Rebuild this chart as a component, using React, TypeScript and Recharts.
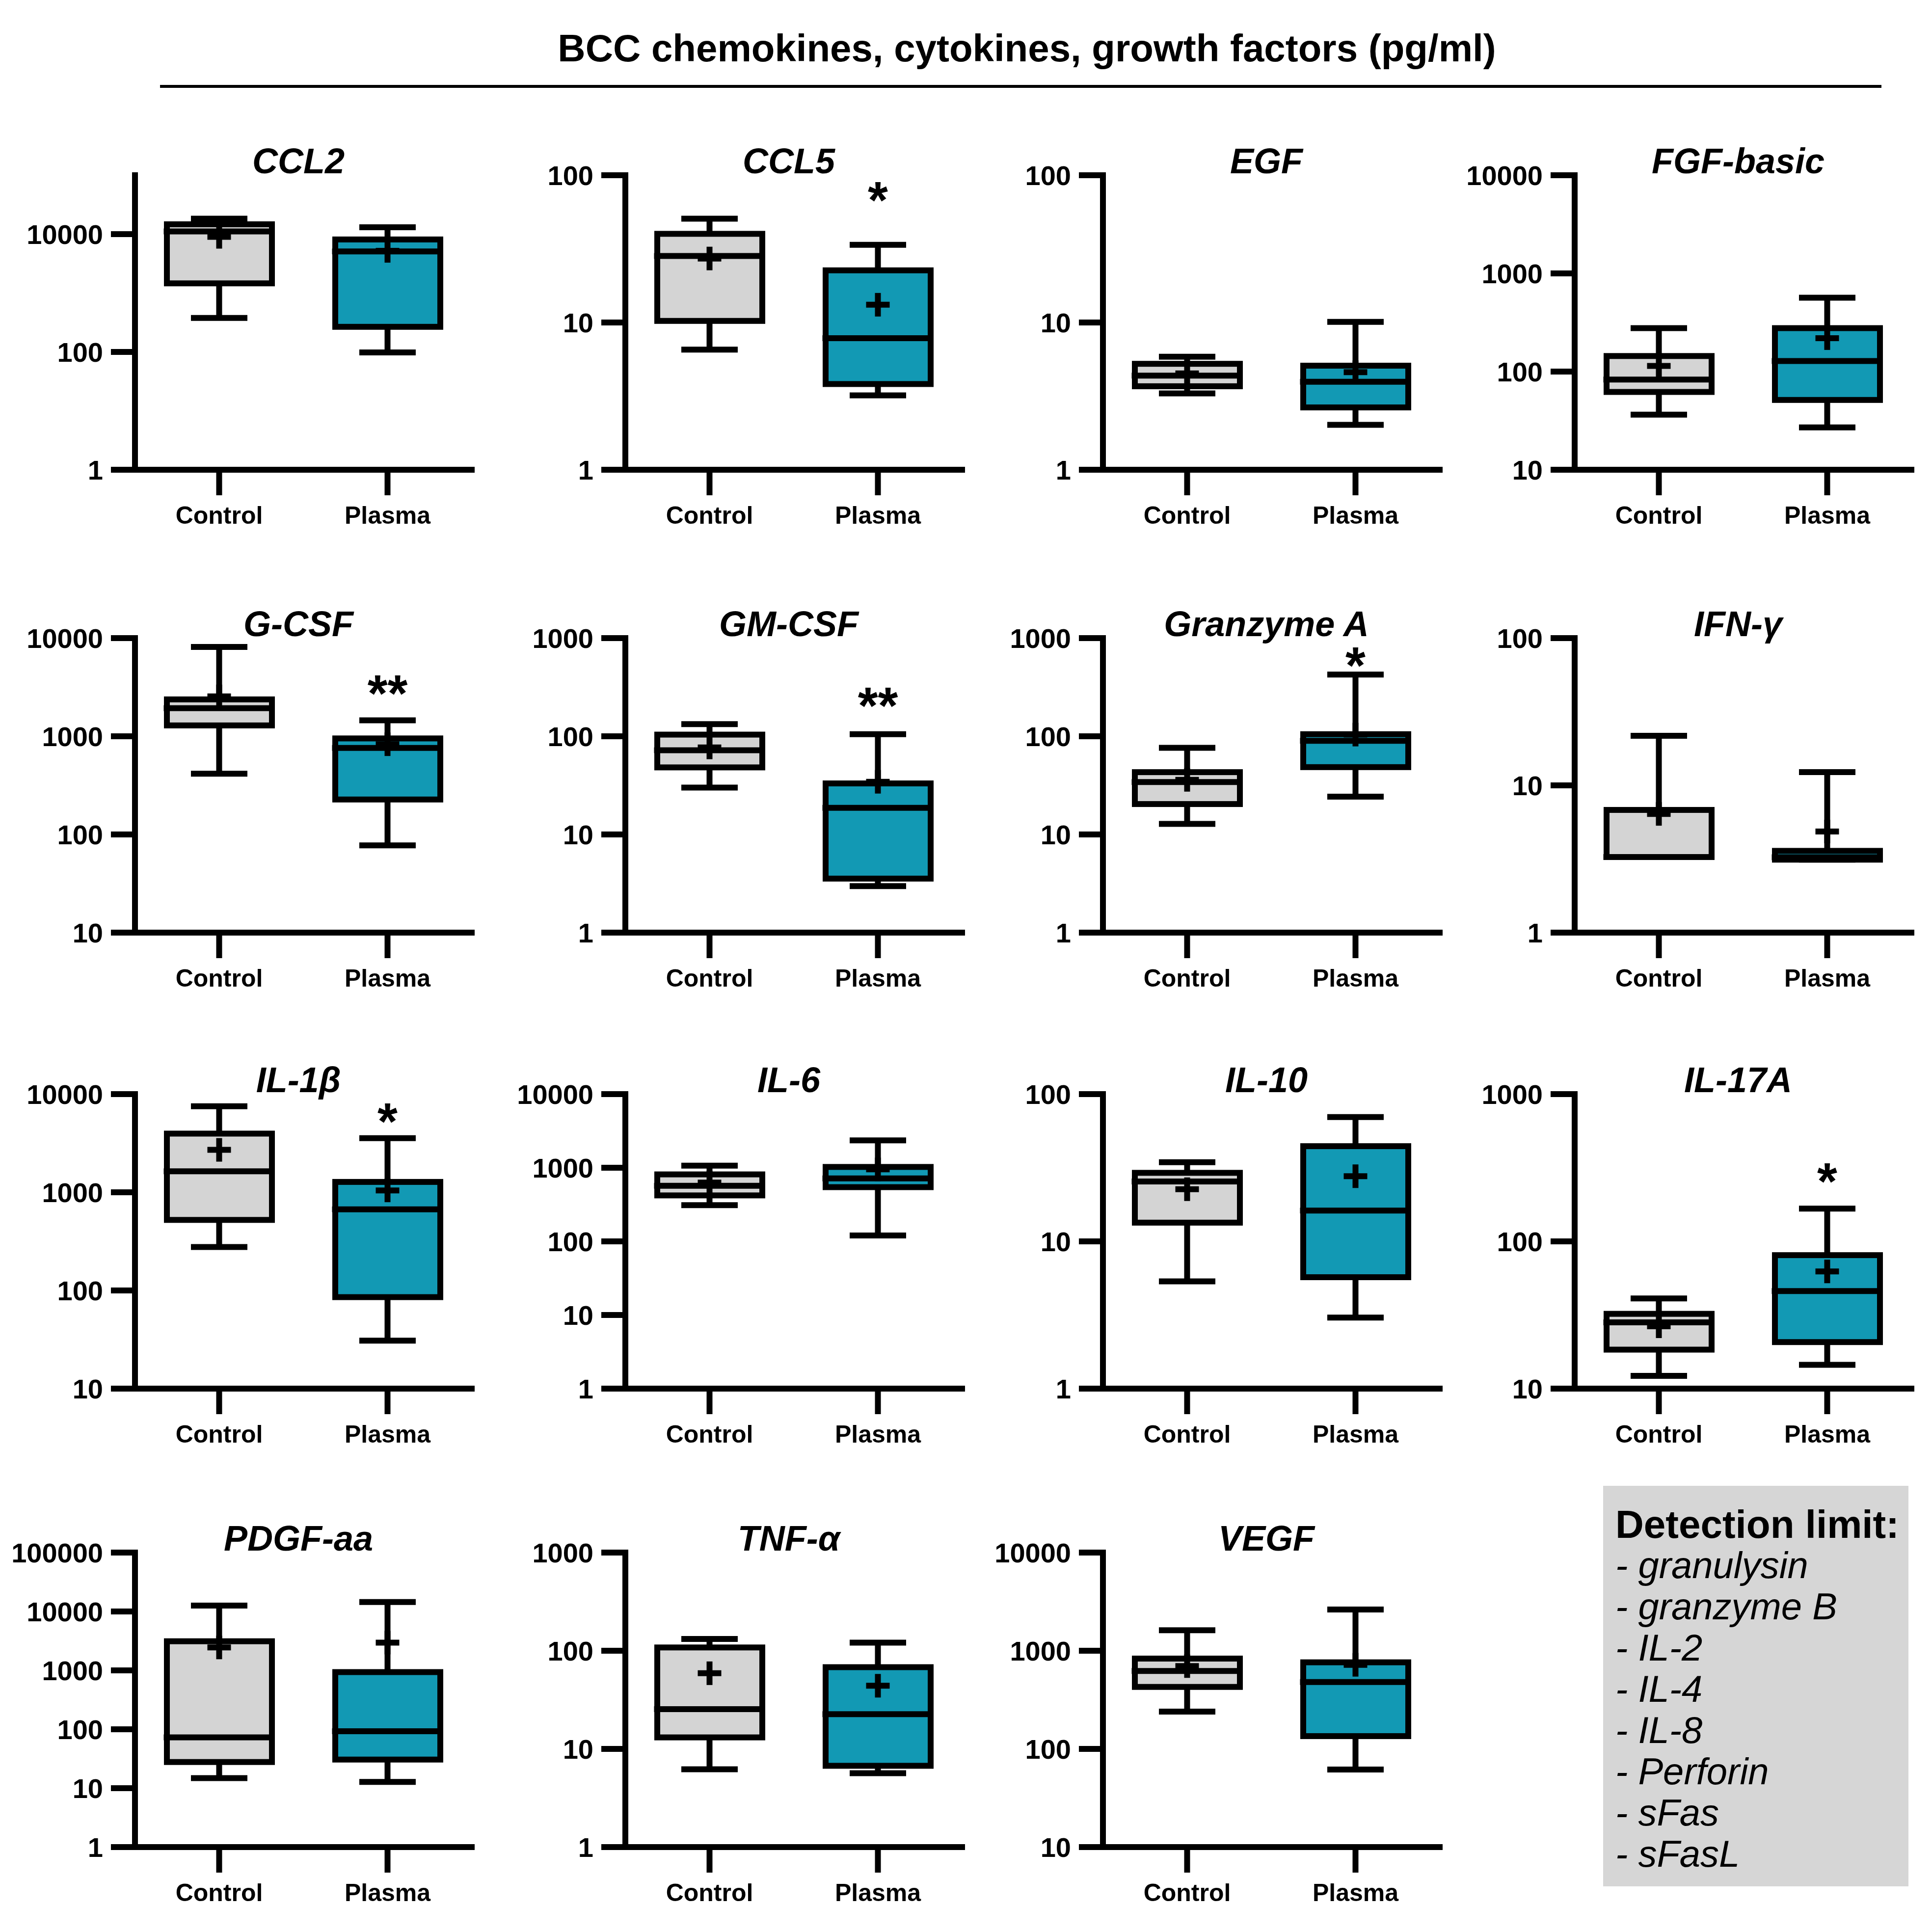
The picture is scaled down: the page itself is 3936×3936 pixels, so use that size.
import React from "react";
import { ComposedChart, Bar, Scatter, Cell, XAxis, YAxis } from "recharts";

const FONT = "'Liberation Sans', Arial, Helvetica, sans-serif";
const LW = 12;
const BOX_COLORS = ["#d4d4d4", "#1299b4"];

const panelNames = [
  "CCL2", "CCL5", "EGF", "FGF-basic",
  "G-CSF", "GM-CSF", "Granzyme A", "IFN-γ",
  "IL-1β", "IL-6", "IL-10", "IL-17A",
  "PDGF-aa", "TNF-α", "VEGF",
];
const groups = ["Control", "Plasma"];

// [Control, Plasma] per panel
const minVals = [
  [377, 98], [6.54, 3.2], [3.3, 2.02], [36.4, 27],
  [416, 77.5], [30, 2.98], [12.8, 24.3], [3.26, 3.13],
  [277, 30.8], [310, 120], [5.35, 3.04], [12.2, 14.5],
  [14.8, 12.8], [6.2, 5.66], [240, 61.6],
];
const q1Vals = [
  [1460, 267], [10.25, 3.82], [3.69, 2.65], [62, 51.4],
  [1290, 227], [48.2, 3.55], [20.4, 48.5], [3.26, 3.13],
  [523, 85.5], [421, 545], [13.4, 5.71], [18.4, 20.7],
  [27.8, 30.6], [13.1, 6.73], [428, 135],
];
const medianVals = [
  [11100, 5080], [28.3, 7.82], [4.36, 3.96], [83, 128],
  [1933, 760], [72, 18.7], [34.2, 90], [3.26, 3.25],
  [1635, 671], [569, 717], [25.5, 16.2], [28.2, 46],
  [73, 92.6], [25.4, 22.6], [622, 480],
];
const q3Vals = [
  [14700, 8120], [40, 22.6], [5.24, 5.09], [144, 277],
  [2375, 951], [104, 33.1], [43.1, 105], [6.81, 3.59],
  [3960, 1275], [812, 1025], [29.2, 44.3], [32.2, 80.6],
  [3120, 935], [108, 68], [832, 762],
];
const maxVals = [
  [18300, 13100], [50.7, 33.7], [5.86, 10.1], [277, 565],
  [8140, 1452], [133, 105], [76.4, 425], [21.7, 12.3],
  [7510, 3560], [1069, 2354], [34.5, 69.9], [41, 167],
  [12600, 14500], [132, 121], [1615, 2630],
];
const meanVals = [
  [9000, 5200], [27.2, 13.2], [4.51, 4.6], [114, 219],
  [2550, 830], [77, 34.4], [36, 104], [6.4, 4.86],
  [2705, 1045], [628, 950], [22.6, 27.7], [26.5, 62.5],
  [2450, 2960], [59, 44], [698, 719],
];

// significance mark above the Plasma group
const sigLabels = ["", "*", "", "", "**", "**", "*", "", "*", "", "", "*", "", "", ""];
const sigAt = [null, 81, null, null, 3580, 270, 688, null, 6880, null, null, 306, null, null, null];

const yDomains = [
  [1, 100000], [1, 100], [1, 100], [10, 10000],
  [10, 10000], [1, 1000], [1, 1000], [1, 100],
  [10, 10000], [1, 10000], [1, 100], [10, 1000],
  [1, 100000], [1, 1000], [10, 10000],
];
const yTicks = [
  [1, 100, 10000], [1, 10, 100], [1, 10, 100], [10, 100, 1000, 10000],
  [10, 100, 1000, 10000], [1, 10, 100, 1000], [1, 10, 100, 1000], [1, 10, 100],
  [10, 100, 1000, 10000], [1, 10, 100, 1000, 10000], [1, 10, 100], [10, 100, 1000],
  [1, 10, 100, 1000, 10000, 100000], [1, 10, 100, 1000], [10, 100, 1000, 10000],
];

const mainTitle = "BCC chemokines, cytokines, growth factors (pg/ml)";
const detectionTitle = "Detection limit:";
const detectionList = ["granulysin", "granzyme B", "IL-2", "IL-4", "IL-8", "Perforin", "sFas", "sFasL"];

// layout
const colX = [275, 1274, 2247, 3208];
const rowTop = [357, 1300, 2229, 3163];
const PLOT_W = 686;
const PLOT_H = 600;
const Y_W = 260;
const M_TOP = 40;
const M_RIGHT = 30;
const X_H = 150;
const BOX_W = 214;
const CAP_W = 115;

const WhiskerShape = (props: any) => {
  const { x, y, width, height } = props;
  if (x == null || y == null || isNaN(y)) return <g />;
  const top = Math.min(y, y + height);
  const bot = Math.max(y, y + height);
  const cx = x + width / 2;
  return (
    <g stroke="#000" strokeWidth={LW} fill="none">
      <line x1={cx} x2={cx} y1={top} y2={bot} />
      <line x1={x} x2={x + width} y1={top} y2={top} />
      <line x1={x} x2={x + width} y1={bot} y2={bot} />
    </g>
  );
};

const BoxShape = (props: any) => {
  const { x, y, width, height, fill } = props;
  if (x == null || y == null || isNaN(y)) return <g />;
  const top = Math.min(y, y + height);
  const h = Math.abs(height);
  return <rect x={x} y={top} width={width} height={h} fill={fill} stroke="#000" strokeWidth={LW} />;
};

const MedianShape = (props: any) => {
  const { cx, cy } = props;
  if (cx == null || cy == null || isNaN(cy)) return <g />;
  const half = (BOX_W + LW) / 2;
  return <line x1={cx - half} x2={cx + half} y1={cy} y2={cy} stroke="#000" strokeWidth={LW} />;
};

const MeanShape = (props: any) => {
  const { cx, cy } = props;
  if (cx == null || cy == null || isNaN(cy)) return <g />;
  return (
    <g stroke="#000" strokeWidth={LW}>
      <line x1={cx - 24} x2={cx + 24} y1={cy} y2={cy} />
      <line x1={cx} x2={cx} y1={cy - 24} y2={cy + 24} />
    </g>
  );
};

const SigShape = (props: any) => {
  const { cx, cy, payload } = props;
  if (!payload || !payload.sigLabel || cy == null || isNaN(cy)) return <g />;
  return (
    <text x={cx} y={cy + 60} textAnchor="middle" fontFamily={FONT} fontWeight={700} fontSize={105} fill="#000">
      {payload.sigLabel}
    </text>
  );
};

function Panel({ index }: { index: number }) {
  const col = index % 4;
  const row = Math.floor(index / 4);
  const rows = groups.map((g, gi) => ({
    group: g,
    whisker: [minVals[index][gi], maxVals[index][gi]],
    box: [q1Vals[index][gi], q3Vals[index][gi]],
    median: medianVals[index][gi],
    mean: meanVals[index][gi],
    sig: gi === 1 ? sigAt[index] : null,
    sigLabel: gi === 1 ? sigLabels[index] : "",
  }));
  const left = colX[col] - Y_W;
  const top = rowTop[row] - M_TOP;
  const tickStyle = { fill: "#000", fontSize: 56, fontWeight: 700, fontFamily: FONT };
  return (
    <div style={{ position: "absolute", left, top }}>
      <ComposedChart
        width={Y_W + PLOT_W + M_RIGHT}
        height={M_TOP + PLOT_H + X_H}
        data={rows}
        margin={{ top: M_TOP, right: M_RIGHT, bottom: 0, left: 0 }}
        style={{ overflow: "visible" }}
      >
        <XAxis
          xAxisId="g"
          dataKey="group"
          type="category"
          height={X_H}
          interval={0}
          tickSize={52}
          tickMargin={22}
          axisLine={{ stroke: "#000", strokeWidth: LW, strokeLinecap: "square" }}
          tickLine={{ stroke: "#000", strokeWidth: LW }}
          tick={{ ...tickStyle, fontSize: 50 }}
        />
        <XAxis xAxisId="b" dataKey="group" type="category" hide height={0} />
        <YAxis
          scale="log"
          type="number"
          domain={yDomains[index]}
          ticks={yTicks[index]}
          allowDataOverflow
          interval={0}
          width={Y_W}
          tickSize={49}
          tickMargin={16}
          tickFormatter={(v: number) => String(v)}
          axisLine={{ stroke: "#000", strokeWidth: LW, strokeLinecap: "square" }}
          tickLine={{ stroke: "#000", strokeWidth: LW }}
          tick={tickStyle}
        />
        <Bar xAxisId="g" dataKey="whisker" barSize={CAP_W} shape={WhiskerShape} isAnimationActive={false} />
        <Bar xAxisId="b" dataKey="box" barSize={BOX_W} shape={BoxShape} isAnimationActive={false}>
          {rows.map((r, i) => (
            <Cell key={r.group} fill={BOX_COLORS[i]} />
          ))}
        </Bar>
        <Scatter xAxisId="b" dataKey="median" shape={MedianShape} isAnimationActive={false} />
        <Scatter xAxisId="b" dataKey="mean" shape={MeanShape} isAnimationActive={false} />
        <Scatter xAxisId="b" dataKey="sig" shape={SigShape} isAnimationActive={false} />
      </ComposedChart>
    </div>
  );
}

export default function App() {
  return (
    <div style={{ position: "absolute", left: 0, top: 0, width: 3936, height: 3936, background: "#fff" }}>
      <svg width={3936} height={3936} style={{ position: "absolute", left: 0, top: 0 }}>
        <text x={2092} y={125} textAnchor="middle" fontFamily={FONT} fontWeight={700} fontSize={78} fill="#000">
          {mainTitle}
        </text>
        <line x1={326} x2={3833} y1={176} y2={176} stroke="#000" strokeWidth={6} />
        {panelNames.map((name, i) => (
          <text
            key={name}
            x={colX[i % 4] + PLOT_W / 2 - 10}
            y={rowTop[Math.floor(i / 4)] - 4}
            textAnchor="middle"
            fontFamily={FONT}
            fontWeight={700}
            fontStyle="italic"
            fontSize={72}
            fill="#000"
          >
            {name}
          </text>
        ))}
        <rect x={3266} y={3027} width={622} height={816} fill="#d6d6d6" />
        <text x={3291} y={3133} fontFamily={FONT} fontWeight={700} fontSize={80} fill="#000">
          {detectionTitle}
        </text>
        {detectionList.map((d, i) => (
          <text key={d} x={3291} y={3215 + i * 84} fontFamily={FONT} fontStyle="italic" fontSize={76} fill="#000">
            {"- " + d}
          </text>
        ))}
      </svg>
      {panelNames.map((name, i) => (
        <Panel key={name} index={i} />
      ))}
    </div>
  );
}
